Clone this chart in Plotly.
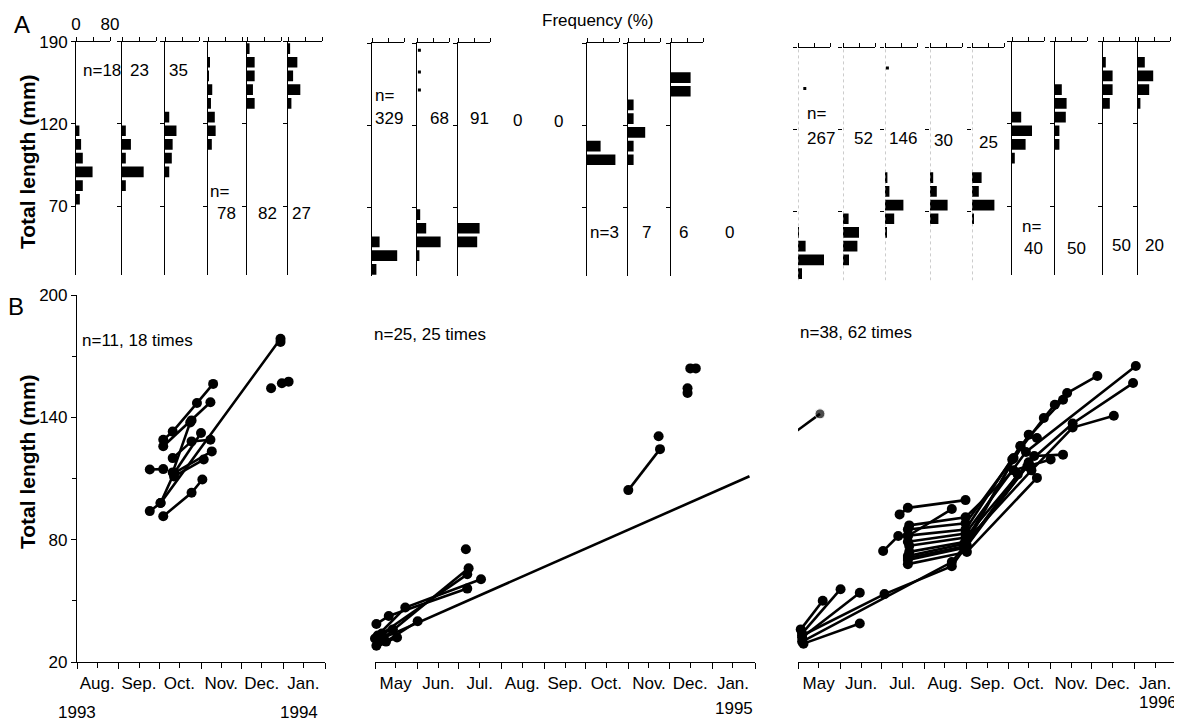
import plotly.graph_objects as go

# page is drawn with an 8 px body margin; the figure is sized to fill the rest
OFF = 8
W, H = 1182 - OFF, 722 - OFF
NARROW = "Liberation Sans, Arial, sans-serif"
REG = "Liberation Sans, Arial, sans-serif"
FS = 17

# ---------------- Panel A : length-frequency histograms ----------------
A93_n = [18, 23, 35, 78, 82, 27]
A93_len = [[125, 115, 105, 95, 85, 75], [125, 115, 105, 95, 85], [135, 125, 115, 105, 95],
           [175, 165, 155, 145, 135, 125, 115], [185, 175, 165, 155, 145], [185, 175, 165, 155, 145]]
A93_freq = [[8, 12, 16, 39, 16, 9], [9, 21, 9, 51, 9], [10, 27, 18, 16, 10],
            [4, 2, 10, 7, 16, 18, 9], [6, 18, 18, 14, 18], [5, 22, 12, 29, 8]]

A94_n = [329, 68, 91, 0, 0, 3, 7, 6, 0]
A94_len = [[45, 35, 25], [65, 55, 45, 35], [55, 45], [], [], [115, 105],
           [145, 135, 125, 115, 105], [165, 155], []]
A94_freq = [[19, 63, 11], [8, 23, 59, 6], [54, 48], [], [], [34, 71],
            [14, 14, 43, 14, 14], [49, 49], []]
A94_dot_len = [[], [185, 169, 156], [], [], [], [], [], [], []]
A94_dot_freq = [[], [6, 6, 6], [], [], [], [], [], [], []]

A95_n = [267, 52, 146, 30, 25, 40, 50, 50, 20]
A95_len = [[55, 45, 35, 25], [65, 55, 45, 35], [95, 85, 75, 65, 55], [95, 85, 75, 65],
           [95, 85, 75, 65], [135, 125, 115, 105], [155, 145, 135, 125, 115],
           [175, 165, 155, 145], [175, 165, 155, 145]]
A95_freq = [[2, 19, 65, 10], [14, 40, 36, 15], [6, 11, 46, 23, 4], [8, 17, 44, 21],
            [24, 17, 56, 3], [23, 50, 34, 7], [17, 29, 27, 11, 11],
            [7, 24, 24, 17], [17, 38, 28, 6]]
A95_dot_len = [[160], [], [175], [], [], [], [], [], []]
A95_dot_freq = [[17], [], [6], [], [], [], [], [], []]

A_yticks = [70, 130, 190]
A_yticktext = ["70", "120", "190"]
A_xticks = [0, 40, 80]

# ---------------- Panel B : individual growth (tag-recapture) ----------------
B93_dates = [["1993-10-04", "1993-10-11", "1993-10-29", "1993-11-10"],
             ["1993-10-04", "1993-10-25", "1993-11-08"],
             ["1993-09-24", "1993-10-04"],
             ["1993-10-11", "1993-10-24"],
             ["1993-10-11", "1993-10-25", "1993-11-08"],
             ["1993-10-12", "1993-11-01"],
             ["1993-10-02", "1993-10-12", "1993-11-09"],
             ["1993-09-24", "1993-10-02", "1993-12-30"],
             ["1993-10-04", "1993-10-25", "1993-11-02"],
             ["1993-10-12", "1993-11-03"],
             ["1993-12-23"], ["1993-12-31"], ["1994-01-05"], ["1993-12-30"]]
B93_len = [[129, 133, 147, 156.4],
           [125.8, 138.5, 147.4],
           [114.4, 114.6],
           [113, 137.5],
           [120, 128.2, 129],
           [112.6, 132.3],
           [98, 112.6, 123.3],
           [94, 98, 178.5],
           [91.5, 103, 109.5],
           [111, 119.3],
           [154.3], [156.7], [157.5], [177]]

B94_dates = [["1994-05-01", "1994-07-07"],
             ["1994-05-03", "1994-05-23", "1994-07-17"],
             ["1994-05-02", "1994-05-11", "1994-07-07"],
             ["1994-05-04", "1994-07-08"],
             ["1994-05-06", "1994-05-14"],
             ["1994-05-02", "1994-05-17"],
             ["1994-05-09", "1994-06-01"],
             ["1994-07-06"],
             ["1994-11-01", "1994-11-24"],
             ["1994-11-23"],
             ["1994-12-16"], ["1994-12-20"], ["1994-12-14"], ["1994-12-14"]]
B94_len = [[31.5, 63],
           [33, 46.7, 60.6],
           [38.6, 42.6, 56],
           [30, 66],
           [34, 36],
           [28, 32],
           [30, 40],
           [75.3],
           [104.3, 124.4],
           [130.7],
           [164], [164], [154.3], [151.9]]
B94_line_dates = ["1994-05-01", "1995-01-28"]
B94_line_len = [30, 111.1]

B95_dates = [["1995-05-03", "1995-05-19"],
             ["1995-05-04", "1995-06-01"],
             ["1995-05-04", "1995-06-15"],
             ["1995-05-05", "1995-06-15"],
             ["1995-05-04", "1995-07-03", "1995-08-21", "1995-10-08"],
             ["1995-05-04", "1995-08-21", "1995-10-15"],
             ["1995-07-02", "1995-07-13"],
             ["1995-07-14", "1995-07-20", "1995-08-31"],
             ["1995-07-20", "1995-08-21"],
             ["1995-07-20", "1995-08-31", "1995-10-05", "1995-10-27", "1995-11-04", "1995-11-13", "1995-12-05"],
             ["1995-07-20", "1995-08-31", "1995-10-10", "1995-11-10"],
             ["1995-07-20", "1995-08-31", "1995-10-14", "1996-01-02"],
             ["1995-07-21", "1995-08-31", "1995-10-16", "1995-11-17", "1995-12-31"],
             ["1995-07-21", "1995-08-31", "1995-10-18", "1995-11-17", "1995-12-17"],
             ["1995-07-20", "1995-09-01", "1995-10-20", "1995-11-10"],
             ["1995-07-20", "1995-09-01", "1995-10-22"],
             ["1995-07-21", "1995-08-31", "1995-10-05", "1995-11-01"],
             ["1995-07-20", "1995-08-30", "1995-10-16"],
             ["1995-07-20", "1995-08-30", "1995-10-10"],
             ["1995-10-04"], ["1995-10-17"], ["1995-10-22"]]
B95_len = [[36, 50],
           [34, 55.7],
           [32, 54],
           [29, 38.9],
           [33, 53.3, 67, 112],
           [30, 69, 116],
           [74.4, 81.8],
           [92.4, 95.6, 99.4],
           [81.8, 95],
           [85, 88, 120, 139.7, 146.2, 151.9, 160.3],
           [82, 85, 126, 148.6],
           [79, 83, 123, 165.2],
           [77, 81, 118, 137, 156.8],
           [74, 79, 114, 135, 140.8],
           [71, 77, 121, 121.7],
           [68, 74, 110.3],
           [87, 91, 114, 119.3],
           [72, 78, 131.5],
           [70, 76, 125.8],
           [119.3], [116], [129.9]]
B95_stub_dates = ["1995-04-29", "1995-05-17"]
B95_stub_len = [132.8, 141.7]

months_93 = ["Aug.", "Sep.", "Oct.", "Nov.", "Dec.", "Jan."]
mid_93 = ["1993-08-16", "1993-09-16", "1993-10-16", "1993-11-16", "1993-12-16", "1994-01-16"]
months_9x = ["May", "Jun.", "Jul.", "Aug.", "Sep.", "Oct.", "Nov.", "Dec.", "Jan."]
mid_94 = ["1994-05-16", "1994-06-16", "1994-07-16", "1994-08-16", "1994-09-16", "1994-10-16",
          "1994-11-16", "1994-12-16", "1995-01-16"]
mid_95 = ["1995-05-16", "1995-06-16", "1995-07-16", "1995-08-16", "1995-09-16", "1995-10-16",
          "1995-11-16", "1995-12-16", "1996-01-16"]
B_yticks = [20, 80, 140, 200]

# ---------------- helpers (positions given in page pixels) ----------------
def xdom(p0, p1):
    return [(p0 - OFF) / W, (p1 - OFF) / W]

def ydom(top, bottom):
    return [1 - (bottom - OFF) / H, 1 - (top - OFF) / H]

fig = go.Figure()
layout = {}
annotations = []
shapes = []

def ann(text, x, y, size=FS, xanchor="left", family=NARROW, **kw):
    annotations.append(dict(text=text, x=(x - OFF) / W, y=1 - (y - OFF) / H, xref="paper", yref="paper",
                            xanchor=xanchor, yanchor="middle", showarrow=False,
                            font=dict(family=family, size=size, color="black"), **kw))

G1_x = [76, 122, 165, 208, 247, 288]
G2_x = [372, 417, 458, 502, 543, 587, 628, 671, 714]
G3_x = [798, 843, 885, 930, 972, 1012, 1055, 1103, 1138]

panels = []
for i in range(6):
    panels.append(dict(x=G1_x[i], top=41.7, L=34, lens=A93_len[i], fr=A93_freq[i],
                       dl=[], df=[], faint=False))
for i in range(9):
    panels.append(dict(x=G2_x[i], top=43.3, L=32, lens=A94_len[i], fr=A94_freq[i],
                       dl=A94_dot_len[i], df=A94_dot_freq[i], faint=False))
for i in range(9):
    panels.append(dict(x=G3_x[i], top=(47.5 if i < 5 else 41.7), L=32, lens=A95_len[i], fr=A95_freq[i],
                       dl=A95_dot_len[i], df=A95_dot_freq[i], faint=(i < 5)))

PXMM = 1.37
for k, p in enumerate(panels, start=1):
    xa = "x" if k == 1 else f"x{k}"
    ya = "y" if k == 1 else f"y{k}"
    bottom = p["top"] + 170 * PXMM
    if p["lens"]:
        fig.add_trace(go.Bar(x=p["fr"], y=p["lens"], orientation="h", width=7.8,
                             marker=dict(color="black", line=dict(width=0)),
                             xaxis=xa, yaxis=ya, showlegend=False))
    if p["dl"]:
        fig.add_trace(go.Scatter(x=p["df"], y=p["dl"], mode="markers",
                                 marker=dict(color="black", size=3, symbol="square"),
                                 xaxis=xa, yaxis=ya, showlegend=False))
    first = (k == 1)
    layout["xaxis" if k == 1 else f"xaxis{k}"] = dict(
        domain=xdom(p["x"], p["x"] + p["L"]), range=[0, 80], side="top", anchor=ya,
        showline=True, linecolor="black", linewidth=1, ticks="outside", ticklen=4,
        tickcolor="black", tickvals=A_xticks, ticktext=["0", "", "80"],
        showticklabels=first, showgrid=False, zeroline=False, fixedrange=True,
        automargin=False, tickangle=0,
        tickfont=dict(family=NARROW, size=FS, color="black"))
    layout["yaxis" if k == 1 else f"yaxis{k}"] = dict(
        domain=ydom(p["top"], bottom), range=[20, 190], anchor=xa,
        showline=not p["faint"], linecolor="black", linewidth=1, ticks="outside", ticklen=4,
        tickcolor="black", tickvals=A_yticks, ticktext=A_yticktext,
        showticklabels=first, showgrid=False, zeroline=False, fixedrange=True,
        automargin=False,
        tickfont=dict(family=NARROW, size=FS, color="black"))
    if p["faint"]:
        shapes.append(dict(type="line", xref=xa, yref=ya, x0=0, x1=0, y0=20, y1=190,
                           line=dict(color="#9a9a9a", width=1, dash="dot")))

# n labels in panel A
lab_pos = [(81, 70, "n="), (128, 70, ""), (167, 70, ""), (215, 214, ""), (256, 214, ""), (290, 214, ""),
           (373, 118, ""), (428, 118, ""), (468, 118, ""), (511, 120, ""), (552, 122, ""),
           (588, 232, "n="), (640, 232, ""), (677, 232, ""), (723, 232, ""),
           (805, 138, ""), (852, 138, ""), (887, 138, ""), (932, 140, ""), (977, 142, ""),
           (1022, 248, ""), (1065, 248, ""), (1110, 246, ""), (1143, 246, "")]
all_n = A93_n + A94_n + A95_n
for (x, y, pre), n in zip(lab_pos, all_n):
    ann(pre + str(n), x, y)
ann("n=", 208, 192)
ann("n=", 373, 95)
ann("n=", 805, 113)
ann("n=", 1020, 226)

# ---------------- Panel B axes ----------------
B_top, B_bot = 295, 662
b_groups = [
    (B93_dates, B93_len, (77, 325), ["1993-08-01", "1994-02-01"], mid_93, months_93, "1993-08-01", True),
    (B94_dates, B94_len, (375, 755), ["1994-05-01", "1995-02-01"], mid_94, months_9x, "1994-05-01", False),
    (B95_dates, B95_len, (798, 1177), ["1995-05-01", "1996-02-01"], mid_95, months_9x, "1995-05-01", False),
]
base = len(panels)
for j, (dts, lns, (p0, p1), rng, mids, mnames, t0, showy) in enumerate(b_groups):
    k = base + 1 + j
    xa, ya = f"x{k}", f"y{k}"
    for d, l in zip(dts, lns):
        fig.add_trace(go.Scatter(x=d, y=l, mode="lines+markers",
                                 line=dict(color="black", width=2.6),
                                 marker=dict(color="black", size=10),
                                 xaxis=xa, yaxis=ya, showlegend=False, cliponaxis=False))
    if j == 1:
        fig.add_trace(go.Scatter(x=B94_line_dates, y=B94_line_len, mode="lines",
                                 line=dict(color="black", width=2.6),
                                 xaxis=xa, yaxis=ya, showlegend=False))
    if j == 2:
        fig.add_trace(go.Scatter(x=B95_stub_dates, y=B95_stub_len, mode="lines+markers",
                                 line=dict(color="black", width=2.6),
                                 marker=dict(color="black", size=[0, 10]),
                                 xaxis=xa, yaxis=ya, showlegend=False))
    layout[f"xaxis{k}"] = dict(
        domain=xdom(p0, p1), type="date", range=rng, anchor=ya,
        showline=True, linecolor="black", linewidth=1.2,
        tickmode="array", tickvals=mids, ticktext=mnames, ticks="outside", ticklen=5,
        tickcolor="black", tickwidth=1, tickangle=0,
        minor=dict(ticks="outside", ticklen=6, tickcolor="black", tickwidth=1,
                   dtick="M1", tick0=t0, showgrid=False),
        showgrid=False, zeroline=False, fixedrange=True, automargin=False,
        tickfont=dict(family=NARROW, size=FS, color="black"))
    layout[f"yaxis{k}"] = dict(
        domain=ydom(B_top, B_bot), range=[20, 200], anchor=xa,
        showline=showy, linecolor="black", linewidth=1.2,
        ticks="outside" if showy else "", ticklen=5, tickcolor="black",
        tickvals=B_yticks, showticklabels=showy,
        minor=dict(ticks="outside" if showy else "", ticklen=4, dtick=30, tick0=20,
                   tickcolor="black"),
        showgrid=False, zeroline=False, fixedrange=True, automargin=False,
        tickfont=dict(family=NARROW, size=FS, color="black"))

# ---------------- texts ----------------
ann("Frequency (%)", 598, 20, xanchor="center")
ann("A", 22, 24, size=24, xanchor="center", family=REG)
ann("B", 16, 306, size=24, xanchor="center", family=REG)
ann("<b>Total length (mm)</b>", 27, 162, size=21, xanchor="center", family=REG, textangle=-90)
ann("<b>Total length (mm)</b>", 27, 462, size=21, xanchor="center", family=REG, textangle=-90)
ann("n=11, 18 times", 80, 340)
ann("n=25, 25 times", 372, 335)
ann("n=38, 62 times", 798, 333)
ann("1993", 77, 712, xanchor="center")
ann("1994", 299, 712, xanchor="center")
ann("1995", 734, 708, xanchor="center")
ann("1996", 1158, 702, xanchor="center")

fig.update_layout(
    width=W, height=H, margin=dict(l=0, r=0, t=0, b=0, autoexpand=False),
    paper_bgcolor="white", plot_bgcolor="rgba(0,0,0,0)",
    showlegend=False, annotations=annotations, shapes=shapes,
    font=dict(family=NARROW, color="black"),
    **layout)

fig.write_html("out.html")
